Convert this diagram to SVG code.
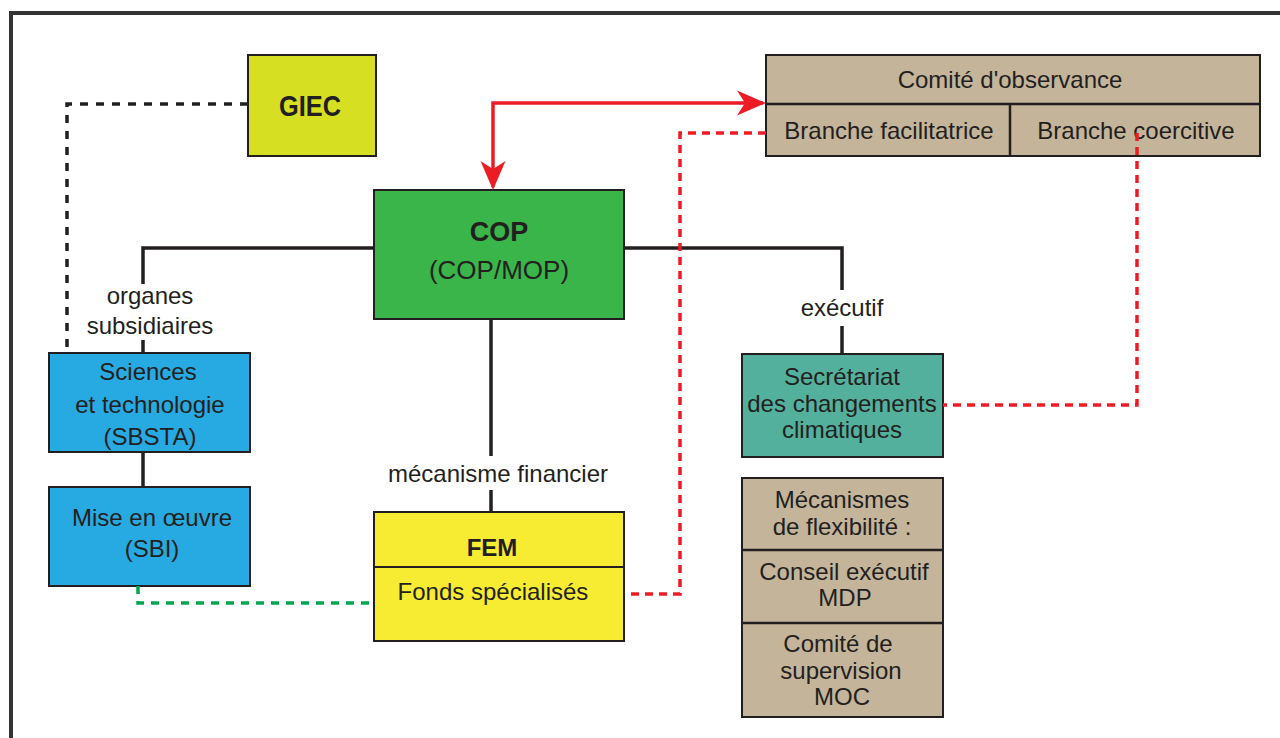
<svg xmlns="http://www.w3.org/2000/svg" width="1280" height="738" viewBox="0 0 1280 738">
<style>
.box{stroke:#231f20;stroke-width:2}
.t{font-family:"Liberation Sans",Arial,sans-serif;font-size:24px;fill:#231f20;text-anchor:middle}
.b{font-weight:bold}
.solid{fill:none;stroke:#231f20;stroke-width:3.5}
.dk{fill:none;stroke:#231f20;stroke-width:3.5;stroke-dasharray:8 8}
.rd{fill:none;stroke:#ed1c24;stroke-width:3.5;stroke-dasharray:8 6}
.gr{fill:none;stroke:#00a651;stroke-width:3.5;stroke-dasharray:8 7}
.ar{fill:none;stroke:#ed1c24;stroke-width:3.5}
</style>
<defs>
<marker id="ah" markerUnits="userSpaceOnUse" viewBox="-32 -15 36 30" markerWidth="36" markerHeight="30" refX="-3" refY="0" orient="auto-start-reverse">
<path d="M0,0 L-29,-12.5 L-21,0 L-29,12.5 Z" fill="#ed1c24"/>
</marker>
</defs>
<rect width="1280" height="738" fill="#ffffff"/>
<path d="M11,738 V13 H1280" fill="none" stroke="#333333" stroke-width="4"/>

<g id="giec">
<rect class="box" x="248" y="55" width="128" height="101" fill="#d7df23"/>
<text class="t b" x="310" y="116" style="font-size:30px" textLength="62" lengthAdjust="spacingAndGlyphs">GIEC</text>
</g>

<g id="comite">
<rect class="box" x="766" y="55" width="494" height="101" fill="#c4b49a" stroke-width="2.5"/>
<path d="M766,104 H1260 M1010,104 V156" stroke="#231f20" stroke-width="2.5"/>
<text class="t" x="1010" y="88">Comité d'observance</text>
<text class="t" x="889" y="139">Branche facilitatrice</text>
<text class="t" x="1136" y="139">Branche coercitive</text>
</g>

<g id="cop">
<rect class="box" x="374" y="190" width="250" height="129" fill="#39b54a"/>
<text class="t b" x="499" y="241" style="font-size:27px">COP</text>
<text class="t" x="499" y="279" style="font-size:26px">(COP/MOP)</text>
</g>

<g id="label-organes">
<text class="t" x="150" y="304">organes</text>
<text class="t" x="150" y="334">subsidiaires</text>
</g>

<g id="sbsta">
<rect class="box" x="49" y="353" width="201" height="99" fill="#27aae1"/>
<text class="t" x="148" y="380">Sciences</text>
<text class="t" x="150" y="413">et technologie</text>
<text class="t" x="150" y="445">(SBSTA)</text>
</g>

<g id="sbi">
<rect class="box" x="49" y="487" width="201" height="99" fill="#27aae1"/>
<text class="t" x="152" y="526">Mise en œuvre</text>
<text class="t" x="152" y="557">(SBI)</text>
</g>

<g id="label-mecanisme">
<text class="t" x="498" y="482">mécanisme financier</text>
</g>

<g id="fem">
<rect class="box" x="374" y="512" width="250" height="129" fill="#f7ec31"/>
<path d="M374,567 H624" stroke="#231f20" stroke-width="2"/>
<text class="t b" x="492" y="556">FEM</text>
<text class="t" x="493" y="600">Fonds spécialisés</text>
</g>

<g id="label-executif">
<text class="t" x="842" y="316">exécutif</text>
</g>

<g id="secretariat">
<rect class="box" x="742" y="354" width="201" height="103" fill="#52b09c"/>
<text class="t" x="842" y="385">Secrétariat</text>
<text class="t" x="842" y="412">des changements</text>
<text class="t" x="842" y="438">climatiques</text>
</g>

<g id="flexibilite">
<rect class="box" x="742" y="478" width="201" height="239" fill="#c4b49a" stroke-width="2.5"/>
<path d="M742,550 H943 M742,623 H943" stroke="#231f20" stroke-width="2.5"/>
<text class="t" x="842" y="508">Mécanismes</text>
<text class="t" x="842" y="535">de flexibilité :</text>
<text class="t" x="844" y="580">Conseil exécutif</text>
<text class="t" x="845" y="606">MDP</text>
<text class="t" x="838" y="652">Comité de</text>
<text class="t" x="841" y="679">supervision</text>
<text class="t" x="842" y="705">MOC</text>
</g>

<g id="connectors">
<path class="solid" d="M374,248 H143 V284"/>
<path class="solid" d="M143,340 V353"/>
<path class="solid" d="M143,452 V487"/>
<path class="solid" d="M624,248 H842 V290"/>
<path class="solid" d="M842,326 V354"/>
<path class="solid" d="M491,319 V456"/>
<path class="solid" d="M491,490 V512"/>
<path class="dk" d="M248,104 H67 V352"/>
<path class="rd" d="M766,133 H680 V594 H625"/>
<path class="rd" d="M1137,133 V405 H943"/>
<path class="gr" d="M138,586 V603 H374"/>
<path class="ar" d="M763,103 H493 V187" marker-start="url(#ah)" marker-end="url(#ah)"/>
</g>
</svg>
